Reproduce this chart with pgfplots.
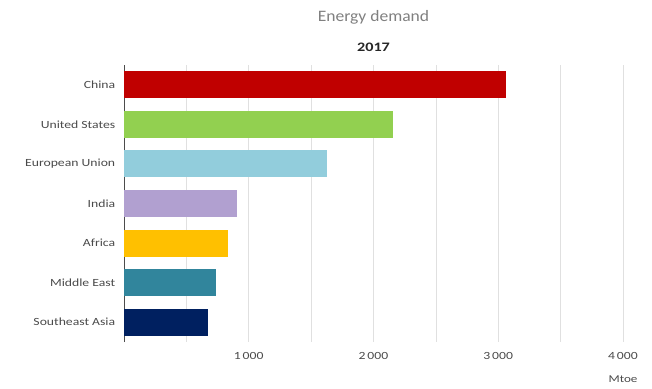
\documentclass[border=0pt]{standalone}
\usepackage{fontspec}
\setmainfont{Carlito}
\newfontfamily\lab[FakeStretch=1.25]{Carlito}
\newfontfamily\ttl[FakeStretch=1.1]{Carlito}
\usepackage{pgfplots}
\pgfplotsset{compat=1.18}
\definecolor{cChina}{HTML}{C00000}
\definecolor{cUS}{HTML}{92D050}
\definecolor{cEU}{HTML}{92CDDC}
\definecolor{cIndia}{HTML}{B1A0D0}
\definecolor{cAfrica}{HTML}{FFC000}
\definecolor{cME}{HTML}{31859C}
\definecolor{cSEA}{HTML}{002060}
\definecolor{txt}{HTML}{4A4A4A}
\begin{document}
\begin{tikzpicture}
\path[use as bounding box] (-124bp,-47bp) rectangle (528bp,342bp);
\begin{axis}[
  at={(0,0)}, anchor=south west,
  scale only axis,
  width=499bp, height=277bp,
  xmin=0, xmax=4000,
  ymin=-0.5, ymax=6.5,
  xbar, bar width=27bp, bar shift=0pt,
  axis x line*=bottom,
  x axis line style={draw=none},
  axis y line*=left,
  y axis line style={draw=black!70, line width=0.6pt},
  xtick={1000,2000,3000,4000},
  xticklabels={1\,000,2\,000,3\,000,4\,000},
  minor xtick={500,1500,2500,3500},
  xmajorgrids, xminorgrids,
  major grid style={draw=black!12, line width=0.6pt},
  minor grid style={draw=black!12, line width=0.6pt},
  major x tick style={draw=none},
  minor x tick style={draw=none},
  ytick={0,1,2,3,4,5,6},
  yticklabels={Southeast Asia,Middle East,Africa,India,European Union,United States,China},
  major y tick style={draw=none},
  extra y ticks={-0.5,0.5,1.5,2.5,3.5,4.5,5.5,6.5},
  extra y tick labels={},
  extra y tick style={major tick length=4bp, tick align=center, tick style={draw=black!70, line width=0.6pt}, grid=none},
  ticklabel style={font=\lab\fontsize{11}{13}\selectfont, text=txt},
  xticklabel style={yshift=-7bp},
  yticklabel style={xshift=-1bp},
  /pgf/number format/assume math mode=true,
  clip=false,
]
\addplot[fill=cChina, draw=none] coordinates {(3060,6)};
\addplot[fill=cUS, draw=none] coordinates {(2160,5)};
\addplot[fill=cEU, draw=none] coordinates {(1630,4)};
\addplot[fill=cIndia, draw=none] coordinates {(905,3)};
\addplot[fill=cAfrica, draw=none] coordinates {(835,2)};
\addplot[fill=cME, draw=none] coordinates {(740,1)};
\addplot[fill=cSEA, draw=none] coordinates {(670,0)};
\node[font=\ttl\fontsize{16}{18}\selectfont, text=black!50] at (rel axis cs:0.5,1) [yshift=48bp] {Energy demand};
\node[font=\lab\fontsize{13}{15}\selectfont\bfseries, text=black!85] at (rel axis cs:0.5,1) [yshift=18bp] {2017};
\node[font=\lab\fontsize{10.5}{12}\selectfont, text=txt] at (axis cs:4000,-0.5) [yshift=-37bp] {Mtoe};
\end{axis}
\end{tikzpicture}
\end{document}
